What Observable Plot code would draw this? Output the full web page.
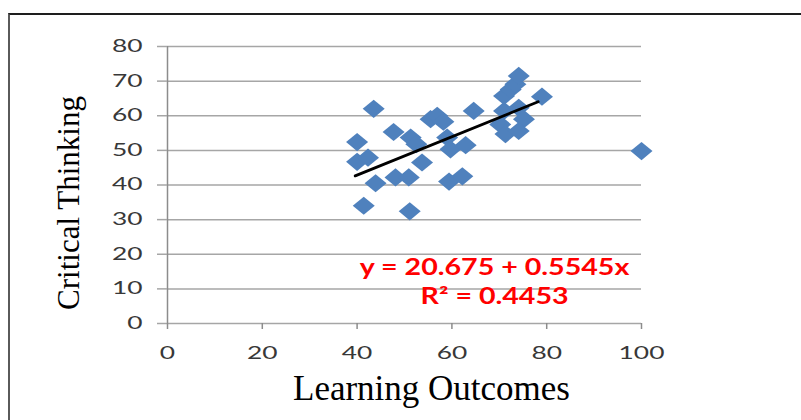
<!DOCTYPE html>
<html>
<head>
<meta charset="utf-8">
<script src="https://cdn.jsdelivr.net/npm/d3@7"></script>
<script src="https://cdn.jsdelivr.net/npm/@observablehq/plot@0.6"></script>
<style>
  html, body { margin: 0; padding: 0; background: #fff; }
  #wrap { position: relative; width: 801px; height: 420px; overflow: hidden; }
  #wrap svg { position: absolute; left: 0; top: 0; }
  #frame { position: absolute; left: 8px; top: 13px; width: 800px; height: 420px;
           border-top: 2px solid #1e1e1e; border-left: 2px solid #5a5a5a; box-sizing: border-box; pointer-events: none; }
</style>
</head>
<body>
<div id="wrap"><div id="frame"></div></div>
<script>
// Learning Outcomes (x) and Critical Thinking (y)
const learningOutcomes = [43.5, 40.0, 40.0, 42.3, 43.9, 41.4, 47.7, 51.3, 52.5, 53.7, 48.1, 50.9, 51.1,
  55.5, 56.9, 58.2, 59.0, 59.7, 62.9, 59.4, 62.2, 64.6, 71.0, 74.1, 75.2, 70.2, 71.3, 74.1,
  71.0, 72.4, 73.4, 74.1, 79.0, 100];
const criticalThinking = [62.0, 52.4, 46.7, 47.9, 40.5, 34.0, 55.3, 53.7, 51.8, 46.5, 42.2, 42.2, 32.4,
  59.0, 60.0, 58.3, 53.7, 50.3, 51.5, 41.0, 42.5, 61.4, 61.4, 62.3, 59.0, 57.5, 54.7, 55.6,
  65.7, 67.6, 69.1, 71.5, 65.5, 49.8];

const xTicks = [0, 20, 40, 60, 80, 100];
const yTicks = [0, 10, 20, 30, 40, 50, 60, 70, 80];

// Trendline as stated in the chart
const intercept = 20.675, slope = 0.5545;
const trendX = [39.6, 78.2];
const equationText = "y = 20.675 + 0.5545x";
const r2Text = "R² = 0.4453";
const labelPos = {x: 69, y1: 16, y2: 7.6};

const points = learningOutcomes.map((x, i) => ({x, y: criticalThinking[i]}));
const trend = trendX.map(x => ({x, y: intercept + slope * x}));

// Excel-style diamond, slightly wider than tall
const wideDiamond = {
  draw(context, size) {
    const s = Math.sqrt(size);
    const w = s * 0.69, h = s * 0.57;
    context.moveTo(0, -h);
    context.lineTo(w, 0);
    context.lineTo(0, h);
    context.lineTo(-w, 0);
    context.closePath();
  }
};

const chart = Plot.plot({
  width: 801,
  height: 420,
  marginLeft: 167,
  marginRight: 160,
  marginTop: 46,
  marginBottom: 97,
  style: {background: "transparent", fontFamily: "Lato, 'Liberation Sans', sans-serif", overflow: "visible"},
  x: {domain: [0, 100]},
  y: {domain: [0, 80]},
  marks: [
    Plot.ruleY(yTicks, {x1: 0, x2: 100, stroke: "#a6a6a6", strokeWidth: 1.5}),
    Plot.ruleX([0], {y1: 0, y2: 80, stroke: "#8c8c8c", strokeWidth: 1.5}),
    Plot.axisY({ticks: yTicks, tickSize: 10, tickPadding: 15, fontSize: 17, stroke: "#a6a6a6", fill: "#383838", strokeWidth: 1.5, label: null}),
    Plot.axisX({ticks: xTicks, tickSize: 6, tickPadding: 17, fontSize: 17, stroke: "#8c8c8c", fill: "#383838", strokeWidth: 1.5, label: null}),
    Plot.dot(points, {x: "x", y: "y", symbol: wideDiamond, r: 9, fill: "#4f81bd", stroke: null}),
    Plot.line(trend, {x: "x", y: "y", stroke: "#000", strokeWidth: 2.8}),
    Plot.text([equationText], {x: labelPos.x, y: labelPos.y1, text: d => d, fill: "#ff0000", fontSize: 22, fontWeight: "bold", textAnchor: "middle", lineAnchor: "middle"}),
    Plot.text([r2Text], {x: labelPos.x, y: labelPos.y2, text: d => d, fill: "#ff0000", fontSize: 22, fontWeight: "bold", textAnchor: "middle", lineAnchor: "middle"}),
    Plot.text(["Critical Thinking"], {frameAnchor: "left", text: d => d, rotate: -90, dx: -98, dy: 18, fontSize: 31, fontFamily: "'Liberation Serif', serif", fill: "#000", textAnchor: "middle", lineAnchor: "middle"}),
    Plot.text(["Learning Outcomes"], {frameAnchor: "bottom", text: d => d, dx: 27, dy: 65, fontSize: 35, fontFamily: "'Liberation Serif', serif", fill: "#000", textAnchor: "middle", lineAnchor: "middle"})
  ]
});

const wrap = document.getElementById("wrap");
wrap.insertBefore(chart, wrap.firstChild);

// the original chart's own texts are stretched horizontally
function stretch(nodes, k) {
  nodes.forEach(t => {
    const x = +t.getAttribute("x") || 0, y = +t.getAttribute("y") || 0;
    const tr = t.getAttribute("transform") || "";
    t.setAttribute("transform", `${tr} translate(${x},${y}) scale(${k},1) translate(${-x},${-y})`);
  });
}
stretch(chart.querySelectorAll('g[aria-label="y-axis tick label"] text, g[aria-label="x-axis tick label"] text'), 1.55);
const eqNodes = Array.from(chart.querySelectorAll('g[aria-label="text"] text')).filter(t => t.textContent === equationText || t.textContent === r2Text);
stretch(eqNodes, 1.3);
</script>
</body>
</html>
